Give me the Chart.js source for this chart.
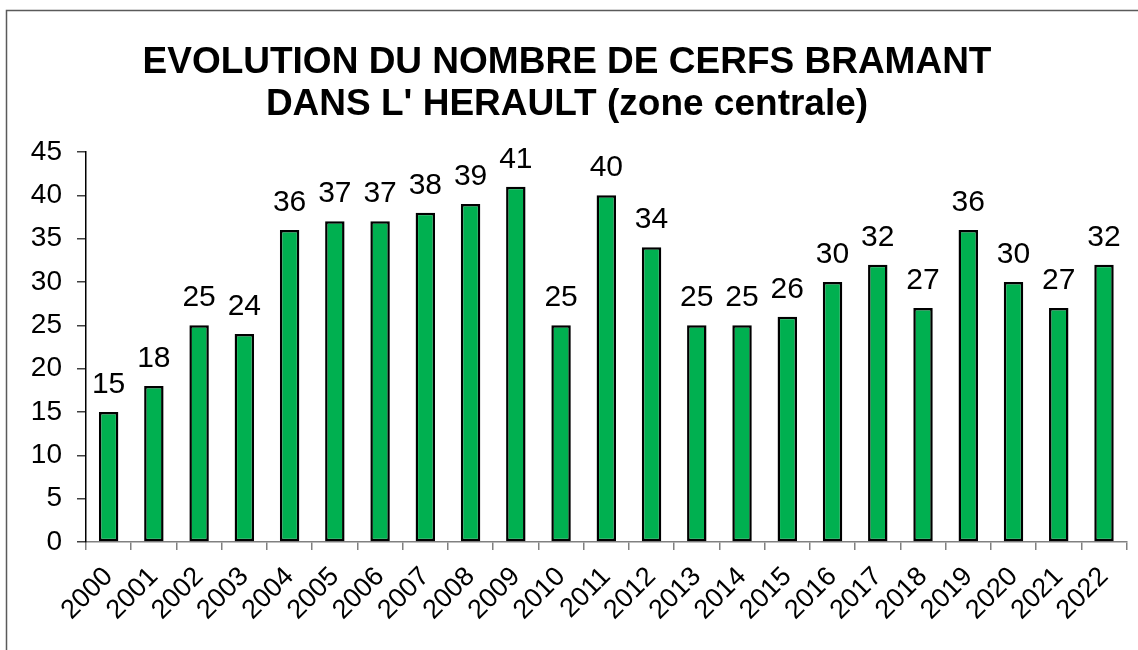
<!DOCTYPE html>
<html>
<head>
<meta charset="utf-8">
<script src="https://cdn.jsdelivr.net/npm/chart.js@4"></script>
<style>
  html, body { margin: 0; padding: 0; background: #ffffff; }
  #wrap { width: 1138px; height: 650px; position: relative; }
</style>
</head>
<body>
<div id="wrap"><canvas id="c" width="1138" height="650"></canvas></div>
<script>
const titleLines = ["EVOLUTION DU NOMBRE DE CERFS BRAMANT", "DANS L' HERAULT (zone centrale)"];
const years = ["2000","2001","2002","2003","2004","2005","2006","2007","2008","2009","2010","2011","2012","2013","2014","2015","2016","2017","2018","2019","2020","2021","2022"];
const cerfs = [15,18,25,24,36,37,37,38,39,41,25,40,34,25,25,26,30,32,27,36,30,27,32];
const yMin = 0, yMax = 45, yStep = 5;

const FONT = "'Liberation Sans', Arial, sans-serif";

const framePlugin = {
  id: 'frame',
  beforeDraw(chart) {
    const ctx = chart.ctx;
    ctx.save();
    ctx.fillStyle = '#ffffff';
    ctx.fillRect(0, 0, chart.width, chart.height);
    ctx.strokeStyle = '#5a5a5a';
    ctx.lineWidth = 1.5;
    ctx.strokeRect(6.5, 10.5, chart.width + 20, chart.height + 20);
    ctx.restore();
  }
};

const valueLabels = {
  id: 'valueLabels',
  afterDatasetsDraw(chart) {
    const ctx = chart.ctx;
    const meta = chart.getDatasetMeta(0);
    const data = chart.data.datasets[0].data;
    ctx.save();
    ctx.font = '30px ' + FONT;
    ctx.fillStyle = '#000000';
    ctx.textAlign = 'center';
    ctx.textBaseline = 'alphabetic';
    meta.data.forEach((bar, i) => {
      ctx.fillText(String(data[i]), bar.x, bar.y - 19);
    });
    ctx.restore();
  }
};

new Chart(document.getElementById('c'), {
  type: 'bar',
  data: {
    labels: years,
    datasets: [{
      data: cerfs,
      backgroundColor: '#00B050',
      borderColor: '#000000',
      borderWidth: 2.5,
      borderSkipped: false,
      categoryPercentage: 1,
      barPercentage: 0.43
    }]
  },
  options: {
    responsive: false,
    animation: false,
    devicePixelRatio: 1,
    layout: { padding: { left: 0, right: 4, top: 0, bottom: 0 } },
    plugins: {
      legend: { display: false },
      tooltip: { enabled: false },
      title: {
        display: true,
        text: titleLines,
        color: '#000000',
        font: { family: FONT, size: 37, weight: 'bold', lineHeight: 1.135 },
        padding: { top: 42, bottom: 26 }
      }
    },
    scales: {
      x: {
        grid: { offset: true, drawOnChartArea: false, drawTicks: true, tickLength: 8, color: '#808080', lineWidth: 1.5 },
        border: { display: true, color: '#808080', width: 1.5 },
        ticks: {
          color: '#000000',
          font: { family: FONT, size: 27 },
          minRotation: 45, maxRotation: 45,
          autoSkip: false,
          padding: 11
        },
        afterFit(scale) { scale.height = 108; }
      },
      y: {
        min: yMin, max: yMax,
        grid: { drawOnChartArea: false, drawTicks: true, tickLength: 9, color: '#404040', lineWidth: 1.5 },
        border: { display: true, color: '#000000', width: 1.5 },
        ticks: {
          stepSize: yStep,
          color: '#000000',
          font: { family: FONT, size: 28 },
          padding: 15
        },
        afterFit(scale) { scale.width = 86; }
      }
    }
  },
  plugins: [framePlugin, valueLabels]
});
</script>
</body>
</html>
